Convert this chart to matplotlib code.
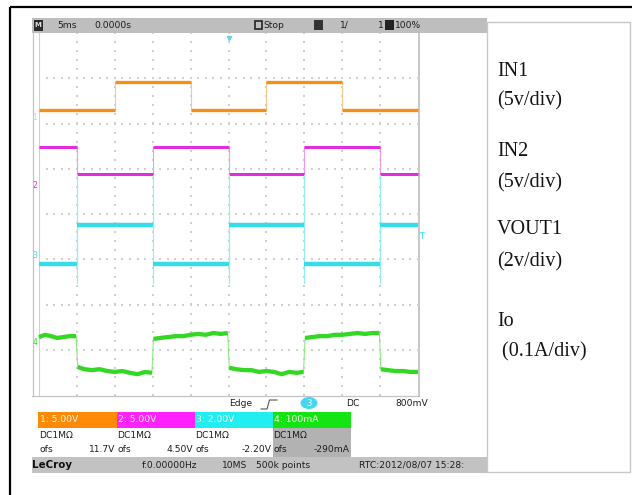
import numpy as np
import matplotlib
matplotlib.use("Agg")
import matplotlib.pyplot as plt
from matplotlib.patches import Rectangle, Ellipse

W, H = 632, 495

# ---------------- data ----------------
time_per_div_ms = 5.0
x_divs = 10
y_divs = 8

ch_scale_text = ["1: 5.00V", "2: 5.00V", "3: 2.00V", "4: 100mA"]
ch_coupling_text = ["DC1MΩ", "DC1MΩ", "DC1MΩ", "DC1MΩ"]
ch_offset_text = ["11.7V", "4.50V", "-2.20V", "-290mA"]
ch_marker_text = ["1", "2", "3", "4"]
ch_marker_div = [2.14, 0.64, -0.91, -2.84]

# IN1 (orange): edge times [ms], low / high level [div]
in1_edges_ms = [10, 20, 30, 40]
in1_levels_div = [2.30, 2.92]
in1_starts_high = False

# IN2 (magenta)
in2_edges_ms = [5, 15, 25, 35, 45]
in2_levels_div = [0.88, 1.48]
in2_starts_high = True

# VOUT1 (cyan)
vout_edges_ms = [5, 15, 25, 35, 45]
vout_levels_div = [-1.105, -0.243]
vout_starts_high = False
vout_spike_div = [0.86, -1.525]

# Io (green), sampled points [ms], [div]
io_t_ms = [0, 0.8, 1.6, 2.4, 3.2, 4.0, 4.9,
           5.1, 6, 7, 8, 9, 10, 11, 12, 13, 14, 14.9,
           15.1, 16, 17, 18, 19, 20, 21, 22, 23, 24, 24.9,
           25.1, 26, 27, 28, 29, 30, 31, 32, 33, 34, 34.9,
           35.1, 36, 37, 38, 39, 40, 41, 42, 43, 44, 44.9,
           45.1, 46, 47, 48, 49, 50]
io_div = [-2.72, -2.67, -2.70, -2.74, -2.72, -2.70, -2.70,
          -3.38, -3.43, -3.45, -3.43, -3.47, -3.49, -3.47, -3.51, -3.54, -3.49, -3.51,
          -2.76, -2.74, -2.72, -2.70, -2.70, -2.67, -2.65, -2.67, -2.63, -2.65, -2.63,
          -3.40, -3.43, -3.45, -3.45, -3.49, -3.47, -3.49, -3.54, -3.49, -3.51, -3.49,
          -2.74, -2.72, -2.70, -2.70, -2.67, -2.67, -2.65, -2.63, -2.65, -2.63, -2.63,
          -3.43, -3.45, -3.47, -3.47, -3.49, -3.49]

trace_colors = ["#f39018", "#de2ede", "#36dde8", "#34d824"]
edge_colors = ["#f8c890", "#ee98ee", "#90eef4", "#8ee880"]
box_colors = ["#ff8a08", "#ff22ff", "#22eef2", "#14e414"]

panel_labels = ["IN1", "(5v/div)", "IN2", "(5v/div)", "VOUT1", "(2v/div)", "Io", " (0.1A/div)"]
panel_label_y = [72, 101, 151, 183, 230, 262, 321, 352]

header_texts = [("5ms", 57), ("0.0000s", 94), ("Stop", 263), ("1/", 340), ("1", 378), ("100%", 395)]
status_texts = [("f:0.00000Hz", 142), ("10MS", 222), ("500k points", 256), ("RTC:2012/08/07 15:28:", 359)]


def square_trace(edges, levels, starts_high, t_end, spikes=None):
    lo, hi = levels
    state = starts_high
    t = [0.0]
    v = [hi if state else lo]
    for e in edges:
        t.append(e); v.append(hi if state else lo)
        if spikes:
            t += [e, e]; v += [spikes[0], spikes[1]]
        state = not state
        t.append(e); v.append(hi if state else lo)
    t.append(t_end); v.append(hi if state else lo)
    return np.array(t, float), np.array(v, float)


def plateaus(t, v, jump=0.25):
    tt, vv = [t[0]], [v[0]]
    for i in range(1, len(t)):
        if abs(v[i] - v[i - 1]) > jump:
            tt.append(np.nan); vv.append(np.nan)
        tt.append(t[i]); vv.append(v[i])
    return np.array(tt), np.array(vv)


t_end = time_per_div_ms * x_divs
traces = [
    square_trace(in1_edges_ms, in1_levels_div, in1_starts_high, t_end),
    square_trace(in2_edges_ms, in2_levels_div, in2_starts_high, t_end),
    square_trace(vout_edges_ms, vout_levels_div, vout_starts_high, t_end, vout_spike_div),
    (np.array(io_t_ms, float), np.array(io_div, float)),
]
thick = [2.4, 2.2, 3.2, 3.1]

fig = plt.figure(figsize=(W / 100, H / 100), dpi=100)
bg = fig.add_axes([0, 0, 1, 1])
bg.set_xlim(0, W)
bg.set_ylim(H, 0)
bg.axis("off")

FS = "DejaVu Sans"
tc = "#1e1e1e"
fs = 6.6

# outer border
bg.plot([10, W], [7, 7], color="black", lw=1.6, solid_capstyle="butt")
bg.plot([10, 10], [7, H], color="black", lw=1.6, solid_capstyle="butt")

# header bar
bg.add_patch(Rectangle((32, 18), 455, 14.5, facecolor="#bebebe", edgecolor="none"))
bg.add_patch(Rectangle((33.5, 19.5), 9, 11, facecolor="#2a2a2a", edgecolor="none"))
bg.text(38, 25.3, "M", color="#dddddd", fontsize=5, ha="center", va="center", family=FS, fontweight="bold")
bg.add_patch(Rectangle((255, 21), 7, 8, facecolor="none", edgecolor="#222222", lw=1.2))
bg.add_patch(Rectangle((314, 20), 9, 10, facecolor="#333333", edgecolor="none"))
bg.add_patch(Rectangle((385, 20), 9, 10, facecolor="#222222", edgecolor="none"))
for s, x in header_texts:
    bg.text(x, 25.5, s, color=tc, fontsize=fs, ha="left", va="center", family=FS)

# screen frame
bg.plot([32.5, 32.5], [32, 396], color="#c4c4c4", lw=0.9)
bg.plot([32, 418.5], [396, 396], color="#c4c4c4", lw=0.9)
bg.plot([418.5, 418.5], [32, 396], color="#b8b8b8", lw=1.1)

# right label panel
bg.add_patch(Rectangle((487, 22), 143, 450, facecolor="white", edgecolor="#c8c8c8", lw=1.0))
for s, y in zip(panel_labels, panel_label_y):
    bg.text(497, y, s, fontsize=14.5, family="Liberation Serif", color="#151515", ha="left", va="center")

# below grid: trigger info
bg.text(229, 404, "Edge", color=tc, fontsize=fs, ha="left", va="center", family=FS)
bg.plot([261, 267, 269.5, 277], [409, 409, 400, 400], color="#555555", lw=0.8)
bg.add_patch(Ellipse((309, 403), 17, 12, facecolor="#46d6f2", edgecolor="none"))
bg.text(309, 403.5, "3", color="white", fontsize=6, ha="center", va="center", family=FS)
bg.text(346, 404, "DC", color=tc, fontsize=fs, ha="left", va="center", family=FS)
bg.text(395, 404, "800mV", color=tc, fontsize=fs, ha="left", va="center", family=FS)

# channel boxes
col_l = [38, 116.5, 194.5, 272.5]
col_r = [116.5, 194.5, 272.5, 351]
bg.add_patch(Rectangle((272.5, 427.5), 78.5, 29.5, facecolor="#b2b2b2", edgecolor="none"))
for i in range(4):
    bg.add_patch(Rectangle((col_l[i], 412), col_r[i] - col_l[i], 15.5, facecolor=box_colors[i], edgecolor="none"))
    bg.text(col_l[i] + 1.5, 420, ch_scale_text[i], color="#fffbe6", fontsize=fs, ha="left", va="center", family=FS)
    bg.text(col_l[i] + 1, 435, ch_coupling_text[i], color=tc, fontsize=fs, ha="left", va="center", family=FS)
    bg.text(col_l[i] + 1, 449.5, "ofs", color=tc, fontsize=fs, ha="left", va="center", family=FS)
    bg.text(col_r[i] - 1, 449.5, ch_offset_text[i], color=tc, fontsize=fs, ha="right", va="center", family=FS)

# status bar
bg.add_patch(Rectangle((32, 457), 455, 15.5, facecolor="#c2c2c2", edgecolor="none"))
bg.text(32, 465, "LeCroy", color="#101010", fontsize=7.4, ha="left", va="center", family=FS, fontweight="bold")
for s, x in status_texts:
    bg.text(x, 465, s, color=tc, fontsize=fs, ha="left", va="center", family=FS)

# ---------------- scope grid axes ----------------
gx0, gx1, gy0, gy1 = 39, 418, 33, 395
ax = fig.add_axes([gx0 / W, 1 - gy1 / H, (gx1 - gx0) / W, (gy1 - gy0) / H])
ax.patch.set_alpha(0)
ax.set_xlim(0, t_end)
ax.set_ylim(-y_divs / 2, y_divs / 2)
ax.set_xticks([]); ax.set_yticks([])
for side in ["top", "right", "bottom"]:
    ax.spines[side].set_visible(False)
ax.spines["left"].set_color("#d8d0c8")
ax.spines["left"].set_linewidth(0.8)

# dotted graticule
dot_c = "#d0d0d0"
xs_div = np.arange(0, x_divs + 1) * time_per_div_ms
ys_div = np.arange(-y_divs // 2, y_divs // 2 + 1)
fine_x = np.arange(0, t_end + 0.01, time_per_div_ms / 5)
fine_y = np.arange(-y_divs / 2, y_divs / 2 + 0.01, 0.2)
gx = np.concatenate([np.repeat(xs_div[1:-1], len(fine_y)), np.tile(fine_x, len(ys_div) - 2)])
gy = np.concatenate([np.tile(fine_y, len(xs_div) - 2), np.repeat(ys_div[1:-1], len(fine_x))])
ax.scatter(gx, gy, s=0.75, marker="s", color=dot_c, linewidths=0, zorder=1)

for i, (t, v) in enumerate(traces):
    ax.plot(t, v, color=edge_colors[i], lw=0.8, zorder=2 + i, clip_on=False)
    pt, pv = plateaus(t, v)
    ax.plot(pt, pv, color=trace_colors[i], lw=thick[i], zorder=3 + i,
            solid_capstyle="butt", clip_on=False)

# trace markers at left edge
for i in range(4):
    ax.text(-0.55, ch_marker_div[i], ch_marker_text[i], color=edge_colors[i] if i == 0 else trace_colors[i],
            fontsize=5.5, ha="center", va="center", family=FS, clip_on=False)

# trigger markers
ax.plot([25], [3.9], marker="v", ms=3, color="#6ccfe8", clip_on=False, zorder=9)
ax.text(50.5, -0.5, "T", color=trace_colors[2], fontsize=6, ha="center", va="center", family=FS, clip_on=False)

fig.savefig("out.png", dpi=100)
